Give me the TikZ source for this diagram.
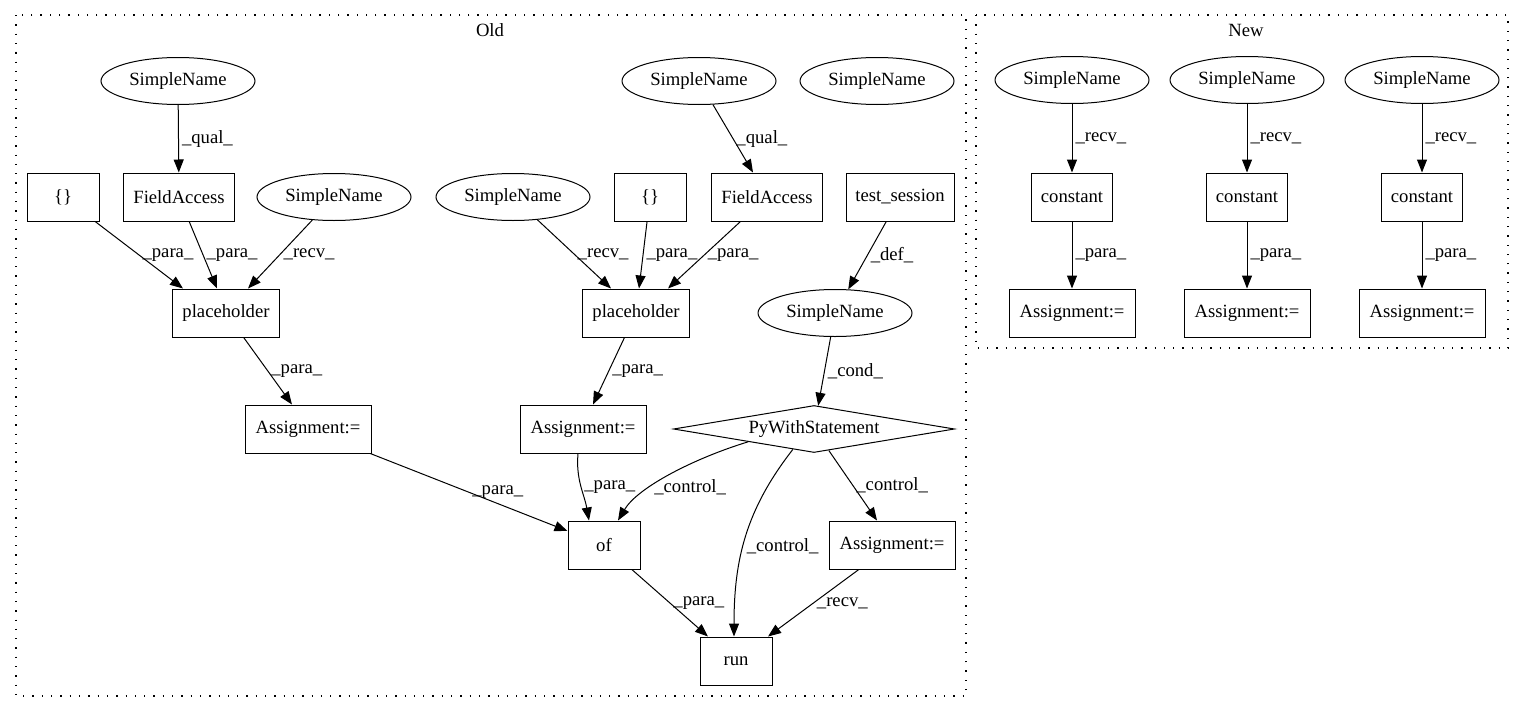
\documentclass[tikz,border=0pt]{standalone}
\usepackage{fontspec}
\setmainfont{Liberation Serif}
\usetikzlibrary{shapes.geometric,arrows.meta}

\begin{document}
\begin{tikzpicture}[x=1pt,y=-1pt,line width=1pt,
    every node/.style={font=\fontsize{18.67}{22}\selectfont},
    box/.style={draw,rectangle,minimum height=48pt,inner sep=0pt},
    oval/.style={draw,ellipse,minimum width=154pt,minimum height=47pt,inner sep=0pt},
    cond/.style={draw,diamond,aspect=6,minimum width=281pt,minimum height=47pt,inner sep=0pt},
    lbl/.style={right,inner sep=3pt},
    cluster/.style={line width=1.3pt,dash pattern=on 1.3pt off 8pt}]
  \useasboundingbox (0,0) rectangle (1525,712);

  % clusters
  \draw[cluster] (16,15) rectangle (966,696);
  \draw[cluster] (976,15) rectangle (1508,348);
  \node (old) at (490,30) {Old};
  \node (new) at (1246,30) {New};

  % old graph
  \draw
    (178,81) node[oval] (sn1){SimpleName}
    (699,81) node[oval] (sn4){SimpleName}
    (877,81) node[oval] (sn5){SimpleName}
    (63,197) node[box,minimum width=72pt] (br1){\{\}}
    (179,197) node[box,minimum width=111pt] (fa1){FieldAccess}
    (334,197) node[oval] (sn2){SimpleName}
    (513,197) node[oval] (sn3){SimpleName}
    (650,197) node[box,minimum width=72pt] (br2){\{\}}
    (767,197) node[box,minimum width=111pt] (fa2){FieldAccess}
    (900,197) node[box,minimum width=108pt] (ts){test\_session}
    (226,313) node[box,minimum width=107pt] (ph1){placeholder}
    (636,313) node[box,minimum width=107pt] (ph2){placeholder}
    (835,313) node[oval] (sn6){SimpleName}
    (308,429) node[box,minimum width=126pt] (as1){Assignment:=}
    (583,429) node[box,minimum width=126pt] (as2){Assignment:=}
    (814,429) node[cond] (pws){PyWithStatement}
    (604,545) node[box,minimum width=72pt] (of){of}
    (892,545) node[box,minimum width=126pt] (as3){Assignment:=}
    (736,661) node[box,minimum width=72pt] (run){run};

  \begin{scope}[-{Triangle[length=13pt,width=10pt]}]
    \draw (sn1) to node[lbl] {\_qual\_} (fa1);
    \draw (br1) to node[lbl] {\_para\_} ([xshift=-43pt]ph1.north);
    \draw (fa1) to node[lbl] {\_para\_} ([xshift=-9pt]ph1.north);
    \draw (sn2) to node[lbl] {\_recv\_} ([xshift=22pt]ph1.north);
    \draw (ph1) to node[lbl] {\_para\_} ([xshift=-16pt]as1.north);
    \draw (sn4) to node[lbl] {\_qual\_} ([xshift=-14pt]fa2.north);
    \draw (sn3) to node[lbl] {\_recv\_} ([xshift=-25pt]ph2.north);
    \draw (br2) to node[lbl] {\_para\_} ([xshift=3pt]ph2.north);
    \draw (fa2) to node[lbl] {\_para\_} ([xshift=32pt]ph2.north);
    \draw (ts) to node[lbl] {\_def\_} (sn6);
    \draw (ph2) to node[lbl] {\_para\_} ([xshift=10pt]as2.north);
    \draw (sn6) to node[lbl] {\_cond\_} (pws);
    \draw (as1) to node[lbl] {\_para\_} (of.159);
    \draw ([xshift=-5pt]as2.south) to[out=-95,in=100] node[lbl] {\_para\_} ([xshift=-15pt]of.north);
    \draw (pws.191) .. controls (695,458) and (638,487) .. ([xshift=14pt]of.north) node[lbl,pos=0.65] {\_control\_};
    \draw (pws.224) to[out=232,in=90] node[lbl,pos=0.55] {\_control\_} ([xshift=-2pt]run.north);
    \draw (pws) to node[lbl] {\_control\_} ([xshift=-15pt]as3.north);
    \draw (of) to node[lbl] {\_para\_} ([xshift=-28pt]run.north);
    \draw (as3) to node[lbl] {\_recv\_} ([xshift=32pt]run.north);
  \end{scope}

  % new graph
  \foreach \x [count=\i] in {1072,1247,1422} {
    \draw
      (\x,80) node[oval] (nsn\i){SimpleName}
      (\x,197) node[box,minimum width=81pt] (nc\i){constant}
      (\x,313) node[box,minimum width=126pt] (nas\i){Assignment:=};
    \draw[-{Triangle[length=13pt,width=10pt]}] (nsn\i) to node[lbl] {\_recv\_} (nc\i);
    \draw[-{Triangle[length=13pt,width=10pt]}] (nc\i) to node[lbl] {\_para\_} (nas\i);
  }
\end{tikzpicture}
\end{document}
